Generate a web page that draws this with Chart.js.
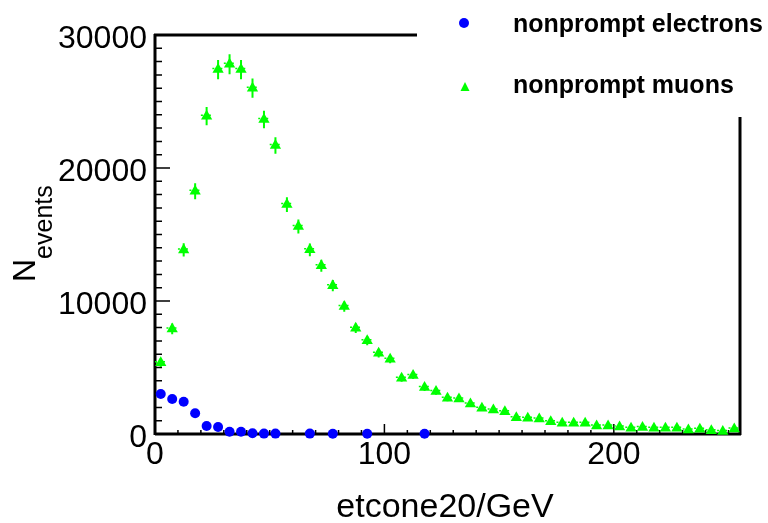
<!DOCTYPE html>
<html>
<head>
<meta charset="utf-8">
<script src="https://cdn.jsdelivr.net/npm/chart.js@4.4.0/dist/chart.umd.min.js"></script>
<style>
  html, body { margin: 0; padding: 0; background: #fff; }
  #wrap { width: 768px; height: 523px; }
</style>
</head>
<body>
<div id="wrap"><canvas id="isoChart" width="768" height="523"></canvas></div>
<script>
// bin centres of the etcone20 histogram (GeV)
const binCenters = [
    2.5, 7.5, 12.5, 17.5, 22.5, 27.5, 32.5, 37.5, 42.5, 47.5,
    52.5, 57.5, 62.5, 67.5, 72.5, 77.5, 82.5, 87.5, 92.5, 97.5,
    102.5, 107.5, 112.5, 117.5, 122.5, 127.5, 132.5, 137.5, 142.5, 147.5,
    152.5, 157.5, 162.5, 167.5, 172.5, 177.5, 182.5, 187.5, 192.5, 197.5,
    202.5, 207.5, 212.5, 217.5, 222.5, 227.5, 232.5, 237.5, 242.5, 247.5,
    252.5
];

// nonprompt muons (green triangles)
const muonCounts = [
    5360, 7900, 13840, 18250, 23900, 27400, 27800, 27400, 26000, 23650,
    21700, 17250, 15600, 13850, 12650, 11150, 9580, 7950, 7020, 6080,
    5620, 4200, 4400, 3490, 3200, 2680, 2630, 2260, 1930, 1800,
    1680, 1230, 1180, 1130, 930, 800, 800, 800, 600, 600,
    530, 430, 480, 430, 430, 430, 300, 350, 250, 180,
    380
];
const muonErrors = [
    330, 400, 500, 600, 690, 720, 750, 720, 720, 660,
    620, 560, 520, 480, 450, 420, 390, 360, 340, 320,
    300, 270, 270, 250, 240, 220, 220, 200, 190, 180,
    170, 150, 150, 140, 130, 120, 120, 120, 100, 100,
    100, 90, 90, 90, 90, 90, 70, 80, 70, 60,
    80
];

// nonprompt electrons (blue circles), only the filled bins
const electronBins = [2.5, 7.5, 12.5, 17.5, 22.5, 27.5, 32.5, 37.5, 42.5, 47.5, 52.5, 67.5, 77.5, 92.5, 117.5];
const electronCounts = [3010, 2630, 2430, 1560, 600, 530, 170, 170, 50, 30, 30, 30, 20, 20, 20];

// axis labels
const xTicks = [0, 100, 200];
const yTicks = [0, 10000, 20000, 30000];

const fontName = "'Liberation Sans', Arial, sans-serif";

// ROOT-like frame, inner ticks and error bars (drawn under the markers)
const rootFrame = {
    id: 'rootFrame',
    beforeDatasetsDraw(chart) {
        const { ctx, chartArea: a, scales: { x, y } } = chart;
        ctx.save();
        ctx.strokeStyle = '#000';
        ctx.lineWidth = 3;
        ctx.beginPath();
        ctx.moveTo(a.left, a.bottom); ctx.lineTo(a.right + 1, a.bottom);
        ctx.moveTo(a.left, a.bottom + 1); ctx.lineTo(a.left, a.top - 1);
        ctx.moveTo(a.left - 1, a.top); ctx.lineTo(417, a.top);
        ctx.moveTo(a.right, 117); ctx.lineTo(a.right, a.bottom + 1);
        ctx.stroke();

        // ticks pointing into the frame
        ctx.lineWidth = 1.5;
        ctx.beginPath();
        for (let v = 0; v <= 30000; v += 1000) {
            const py = y.getPixelForValue(v);
            const len = v % 10000 === 0 ? 15 : 7;
            ctx.moveTo(a.left, py); ctx.lineTo(a.left + len, py);
        }
        for (let v = 0; v <= 250; v += 10) {
            const px = x.getPixelForValue(v);
            const len = v % 100 === 0 ? 10 : 4;
            ctx.moveTo(px, a.bottom); ctx.lineTo(px, a.bottom - len);
        }
        ctx.stroke();

        // muon error bars: vertical solid, horizontal dotted
        ctx.strokeStyle = '#00ff00';
        ctx.lineWidth = 2;
        ctx.beginPath();
        binCenters.forEach((c, i) => {
            const px = x.getPixelForValue(c);
            ctx.moveTo(px, y.getPixelForValue(muonCounts[i] - muonErrors[i]));
            ctx.lineTo(px, y.getPixelForValue(muonCounts[i] + muonErrors[i]));
        });
        ctx.stroke();
        ctx.lineWidth = 1.5;
        ctx.setLineDash([2, 2]);
        ctx.beginPath();
        binCenters.forEach((c, i) => {
            const py = y.getPixelForValue(muonCounts[i]) - 1;
            ctx.moveTo(x.getPixelForValue(c - 2.5), py);
            ctx.lineTo(x.getPixelForValue(c + 2.5), py);
        });
        ctx.stroke();
        ctx.restore();
    },
    afterDraw(chart) {
        const { ctx } = chart;
        ctx.save();
        ctx.fillStyle = '#000';

        // x title
        ctx.font = '34px ' + fontName;
        ctx.textAlign = 'center';
        ctx.textBaseline = 'alphabetic';
        ctx.fillText('etcone20/GeV', 445, 517);

        // y title N_events
        ctx.save();
        ctx.translate(35, 282);
        ctx.rotate(-Math.PI / 2);
        ctx.textAlign = 'left';
        ctx.font = '32px ' + fontName;
        ctx.fillText('N', 0, 0);
        const nW = ctx.measureText('N').width;
        ctx.font = '25px ' + fontName;
        ctx.fillText('events', nW, 17);
        ctx.restore();

        // legend
        ctx.fillStyle = '#0000ff';
        ctx.beginPath();
        ctx.arc(464, 23, 5, 0, Math.PI * 2);
        ctx.fill();
        ctx.fillStyle = '#00ff00';
        ctx.beginPath();
        ctx.moveTo(465, 82); ctx.lineTo(469.5, 91); ctx.lineTo(460.5, 91);
        ctx.closePath();
        ctx.fill();
        ctx.fillStyle = '#000';
        ctx.font = 'bold 25px ' + fontName;
        ctx.textAlign = 'left';
        ctx.fillText('nonprompt electrons', 513, 32);
        ctx.fillText('nonprompt muons', 513, 93);
        ctx.restore();
    }
};

const ctx = document.getElementById('isoChart').getContext('2d');

new Chart(ctx, {
    type: 'scatter',
    data: {
        datasets: [{
            label: 'nonprompt electrons',
            data: electronBins.map((b, i) => ({ x: b, y: electronCounts[i] })),
            pointStyle: 'circle',
            pointRadius: 5,
            backgroundColor: '#0000ff',
            borderWidth: 0,
            clip: false
        }, {
            label: 'nonprompt muons',
            data: binCenters.map((b, i) => ({ x: b, y: muonCounts[i] })),
            pointStyle: 'triangle',
            pointRadius: 6.5,
            backgroundColor: '#00ff00',
            borderWidth: 0,
            clip: false
        }]
    },
    options: {
        responsive: false,
        animation: false,
        events: [],
        layout: { padding: { top: 35, right: 28, left: 0, bottom: 0 } },
        plugins: {
            legend: { display: false },
            tooltip: { enabled: false }
        },
        scales: {
            x: {
                type: 'linear',
                min: 0,
                max: 255,
                grid: { display: false, drawTicks: false },
                border: { display: false },
                afterBuildTicks: s => { s.ticks = xTicks.map(v => ({ value: v })); },
                afterFit: s => { s.height = 89; },
                ticks: {
                    font: { family: fontName, size: 32 },
                    color: '#000',
                    padding: 2,
                    maxRotation: 0,
                    autoSkip: false,
                    callback: v => String(v)
                }
            },
            y: {
                type: 'linear',
                min: 0,
                max: 30000,
                grid: { display: false, drawTicks: false },
                border: { display: false },
                afterBuildTicks: s => { s.ticks = yTicks.map(v => ({ value: v })); },
                afterFit: s => { s.width = 155; },
                ticks: {
                    font: { family: fontName, size: 32 },
                    color: '#000',
                    padding: 8,
                    labelOffset: 4,
                    callback: v => String(v)
                }
            }
        }
    },
    plugins: [rootFrame]
});
</script>
</body>
</html>
